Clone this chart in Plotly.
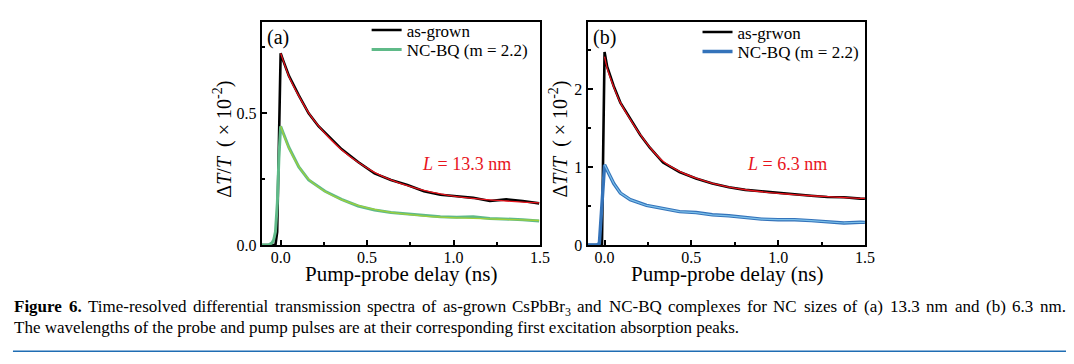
import plotly.graph_objects as go

# ---------------- data ----------------
# Panel (a): L = 13.3 nm
a_x = [-0.11, -0.06, -0.03, -0.02, -0.01, 0.0, 0.015, 0.048, 0.105, 0.162, 0.219, 0.276, 0.352, 0.448,
       0.543, 0.638, 0.733, 0.829, 0.924, 1.019, 1.114, 1.21, 1.305, 1.40, 1.495]
a_grown = [0.0, 0.0, 0.0, 0.05, 0.40, 0.728, 0.70, 0.642, 0.568, 0.500, 0.451, 0.414, 0.364, 0.315,
           0.272, 0.247, 0.228, 0.204, 0.191, 0.185, 0.179, 0.167, 0.173, 0.167, 0.158]
a_grown_fit = [None, None, None, None, None, 0.728, 0.70, 0.640, 0.566, 0.502, 0.452, 0.410, 0.362, 0.314,
               0.276, 0.247, 0.225, 0.207, 0.194, 0.184, 0.177, 0.171, 0.167, 0.163, 0.160]
a_bq_x = [-0.11, -0.07, -0.05, -0.04, -0.03, -0.019, -0.01, 0.0, 0.015, 0.048, 0.105, 0.162, 0.257, 0.352,
          0.448, 0.543, 0.638, 0.733, 0.829, 0.924, 1.019, 1.114, 1.21, 1.305, 1.40, 1.495]
a_bq = [0.0, 0.0, 0.008, 0.02, 0.05, 0.16, 0.33, 0.451, 0.425, 0.370, 0.296, 0.247, 0.204, 0.173,
        0.148, 0.133, 0.123, 0.117, 0.111, 0.107, 0.105, 0.107, 0.101, 0.099, 0.096, 0.091]
a_bq_fit = [None, None, None, None, None, None, None, 0.451, 0.423, 0.368, 0.298, 0.250, 0.203, 0.172,
            0.150, 0.135, 0.124, 0.116, 0.110, 0.106, 0.103, 0.101, 0.099, 0.097, 0.095, 0.093]

# Panel (b): L = 6.3 nm
b_x = [-0.10, -0.03, -0.015, -0.008, 0.0, 0.015, 0.053, 0.091, 0.148, 0.205, 0.261, 0.337, 0.432, 0.527,
       0.621, 0.716, 0.811, 0.905, 1.0, 1.095, 1.19, 1.284, 1.379, 1.473, 1.5]
b_grown = [0.0, 0.0, 0.0, 1.2, 2.48, 2.29, 2.04, 1.83, 1.625, 1.417, 1.25, 1.06, 0.938, 0.854,
           0.790, 0.742, 0.708, 0.688, 0.667, 0.646, 0.633, 0.617, 0.613, 0.596, 0.594]
b_grown_fit = [None, None, None, None, 2.42, 2.27, 2.03, 1.83, 1.615, 1.420, 1.255, 1.075, 0.945, 0.858,
               0.793, 0.745, 0.710, 0.684, 0.664, 0.647, 0.633, 0.621, 0.610, 0.600, 0.598]
b_bq_x = [-0.10, -0.045, -0.03, -0.02, -0.01, 0.0, 0.025, 0.053, 0.091, 0.148, 0.242, 0.337, 0.432, 0.527,
          0.621, 0.716, 0.811, 0.905, 1.0, 1.095, 1.19, 1.284, 1.379, 1.473, 1.5]
b_bq = [0.0, 0.0, 0.02, 0.35, 0.80, 1.03, 0.917, 0.79, 0.667, 0.583, 0.508, 0.467, 0.429, 0.417,
        0.388, 0.375, 0.354, 0.333, 0.325, 0.325, 0.313, 0.300, 0.283, 0.292, 0.290]
b_bq_fit = [None, None, None, None, None, 1.03, 0.917, 0.79, 0.667, 0.583, 0.508, 0.467, 0.429, 0.417,
            0.388, 0.375, 0.354, 0.333, 0.325, 0.325, 0.313, 0.300, 0.283, 0.292, 0.290]

a_yticks = [0.0, 0.5]
a_yticktext = ["0.0", "0.5"]
b_yticks = [0, 1, 2]
b_yticktext = ["0", "1", "2"]
xticks = [0.0, 0.5, 1.0, 1.5]
xticktext = ["0.0", "0.5", "1.0", "1.5"]

caption_line1_words = ["<b>Figure</b>", "<b>6.</b>", "Time-resolved", "differential", "transmission", "spectra",
                       "of", "as-grown", "CsPbBr<sub>3</sub>", "and", "NC-BQ", "complexes", "for", "NC",
                       "sizes", "of", "(a)", "13.3", "nm", "and", "(b)", "6.3", "nm."]
caption_line2 = ("The wavelengths of the probe and pump pulses are at their corresponding "
                 "first excitation absorption peaks.")

SERIF = "Liberation Serif, Times New Roman, serif"
W, H = 1074, 364
NB = "\u00a0"


def px_x(p):
    return p / W


def px_y(p):
    return 1 - p / H


fig = go.Figure()

# panel (a)
fig.add_trace(go.Scatter(x=a_x, y=a_grown, mode="lines", name="as-grown",
                         line=dict(color="black", width=2.6), xaxis="x", yaxis="y", legend="legend"))
fig.add_trace(go.Scatter(x=a_bq_x, y=a_bq, mode="lines", name="NC-BQ (m = 2.2)",
                         line=dict(color="#5fba88", width=3), xaxis="x", yaxis="y", legend="legend2"))
fig.add_trace(go.Scatter(x=a_x, y=a_grown_fit, mode="lines", showlegend=False,
                         line=dict(color="#e8141c", width=1.3, shape="spline"), xaxis="x", yaxis="y"))
fig.add_trace(go.Scatter(x=a_bq_x, y=a_bq_fit, mode="lines", showlegend=False,
                         line=dict(color="#9fd03a", width=1.3, shape="spline"), xaxis="x", yaxis="y"))

# panel (b)
fig.add_trace(go.Scatter(x=b_x, y=b_grown, mode="lines", name="as-grwon",
                         line=dict(color="black", width=2.6), xaxis="x2", yaxis="y2", legend="legend3"))
fig.add_trace(go.Scatter(x=b_bq_x, y=b_bq, mode="lines", name="NC-BQ (m = 2.2)",
                         line=dict(color="#3473ba", width=3.4), xaxis="x2", yaxis="y2", legend="legend4"))
fig.add_trace(go.Scatter(x=b_x, y=b_grown_fit, mode="lines", showlegend=False,
                         line=dict(color="#e8141c", width=1.3, shape="spline"), xaxis="x2", yaxis="y2"))
fig.add_trace(go.Scatter(x=b_bq_x, y=b_bq_fit, mode="lines", showlegend=False,
                         line=dict(color="#7cc0ea", width=1.2), xaxis="x2", yaxis="y2"))

axis_common = dict(showline=True, linecolor="black", linewidth=2, mirror=True,
                   ticks="inside", ticklen=5, tickwidth=2, tickcolor="black",
                   showgrid=False, zeroline=False,
                   tickfont=dict(family=SERIF, size=16, color="black"))
minor_style = dict(ticks="inside", ticklen=3, tickwidth=1.5, tickcolor="black")


def leg(xp, yp):
    return dict(x=px_x(xp), y=px_y(yp), xanchor="left", yanchor="middle",
                bgcolor="rgba(0,0,0,0)", font=dict(family=SERIF, size=17, color="black"),
                tracegroupgap=0, itemwidth=30)


fig.update_layout(
    width=W, height=H, margin=dict(l=0, r=0, t=0, b=0),
    paper_bgcolor="white", plot_bgcolor="white",
    font=dict(family=SERIF, color="black"),
    xaxis=dict(domain=[px_x(256), px_x(537)], range=[-0.11, 1.5], anchor="y",
               tickvals=xticks, ticktext=xticktext, ticklabelstandoff=-3,
               minor=dict(tickvals=[0.25, 0.75, 1.25], **minor_style), **axis_common),
    yaxis=dict(domain=[px_y(243), px_y(14)], range=[0, 0.848], anchor="x",
               tickvals=a_yticks, ticktext=a_yticktext,
               minor=dict(tickvals=[0.25, 0.75], **minor_style), **axis_common),
    xaxis2=dict(domain=[px_x(585), px_x(865)], range=[-0.098, 1.5], anchor="y2",
                tickvals=xticks, ticktext=xticktext, ticklabelstandoff=-3,
                minor=dict(tickvals=[0.25, 0.75, 1.25], **minor_style), **axis_common),
    yaxis2=dict(domain=[px_y(243), px_y(14)], range=[0, 2.87], anchor="x2",
                tickvals=b_yticks, ticktext=b_yticktext,
                minor=dict(tickvals=[0.5, 1.5, 2.5], **minor_style), **axis_common),
    legend=leg(362, 23),
    legend2=leg(362, 43),
    legend3=leg(696, 25),
    legend4=leg(696, 45),
)

anns = []
ytitle = f"Δ<i>T</i>/<i>T</i>{NB}{NB}({NB}×{NB}10<sup>-2</sup>)"
xtitle = "Pump-probe delay (ns)"
for xc in (217, 556):
    anns.append(dict(x=px_x(xc), y=px_y(134), xref="paper", yref="paper", text=ytitle,
                     showarrow=False, textangle=-90, font=dict(family=SERIF, size=20, color="black"),
                     xanchor="center", yanchor="middle"))
for xc in (397, 726):
    anns.append(dict(x=px_x(xc), y=px_y(273), xref="paper", yref="paper", text=xtitle,
                     showarrow=False, font=dict(family=SERIF, size=21, color="black"),
                     xanchor="center", yanchor="middle"))
anns.append(dict(x=px_x(273), y=px_y(30), xref="paper", yref="paper", text="(a)", showarrow=False,
                 font=dict(family=SERIF, size=20, color="black"), xanchor="center", yanchor="middle"))
anns.append(dict(x=px_x(602), y=px_y(30), xref="paper", yref="paper", text="(b)", showarrow=False,
                 font=dict(family=SERIF, size=20, color="black"), xanchor="center", yanchor="middle"))
anns.append(dict(x=px_x(463), y=px_y(160), xref="paper", yref="paper", text="<i>L</i> = 13.3 nm",
                 showarrow=False, font=dict(family=SERIF, size=18, color="#e8141c"),
                 xanchor="center", yanchor="middle"))
anns.append(dict(x=px_x(786), y=px_y(160), xref="paper", yref="paper", text="<i>L</i> = 6.3 nm",
                 showarrow=False, font=dict(family=SERIF, size=18, color="#e8141c"),
                 xanchor="center", yanchor="middle"))

# ---- caption: first line is fully justified in the reference ----
CAP_SIZE = 17
TIMES = {" ": 250, "(": 333, ")": 333, "-": 333, ".": 250, "=": 564}
TIMES.update({d: 500 for d in "0123456789"})
TIMES.update(dict(zip("ABCDEFGHIJKLMNOPQRSTUVWXYZ",
                      [722, 667, 667, 722, 611, 556, 722, 722, 333, 389, 722, 611, 889, 722, 722, 556,
                       722, 667, 556, 611, 722, 722, 944, 722, 722, 611])))
TIMES.update(dict(zip("abcdefghijklmnopqrstuvwxyz",
                      [444, 500, 444, 500, 444, 333, 500, 500, 278, 278, 500, 278, 778, 500, 500, 500,
                       500, 333, 389, 278, 500, 500, 722, 500, 500, 444])))
BOLD = dict(TIMES)
BOLD.update({"F": 611, "u": 556, "r": 444, "g": 500})


def word_width(w):
    bold = w.startswith("<b>")
    plain = w.replace("<b>", "").replace("</b>", "")
    table = BOLD if bold else TIMES
    total = 0.0
    if "<sub>" in plain:
        base, sub = plain.split("<sub>")
        sub = sub.replace("</sub>", "")
        total += sum(table.get(c, 500) for c in base) + 0.7 * sum(table.get(c, 500) for c in sub)
    else:
        total += sum(table.get(c, 500) for c in plain)
    return total * CAP_SIZE / 1000.0


left, right = 5.0, 1067.0
widths = [word_width(w) for w in caption_line1_words]
gap = (right - left - sum(widths)) / (len(caption_line1_words) - 1)
cap_font = dict(family=SERIF, size=CAP_SIZE, color="black")
xpos = left
for w, wd in zip(caption_line1_words, widths):
    anns.append(dict(x=px_x(xpos), y=px_y(295), xref="paper", yref="paper", text=w, showarrow=False,
                     font=cap_font, xanchor="left", yanchor="top", borderpad=0))
    xpos += wd + gap
anns.append(dict(x=px_x(5), y=px_y(317), xref="paper", yref="paper", text=caption_line2, showarrow=False,
                 font=cap_font, xanchor="left", yanchor="top", borderpad=0))

fig.update_layout(annotations=anns)
fig.add_shape(type="line", xref="paper", yref="paper", x0=px_x(5), x1=px_x(1068),
              y0=px_y(352), y1=px_y(352), line=dict(color="#1f6db3", width=1.5))

fig.write_html("out.html")
